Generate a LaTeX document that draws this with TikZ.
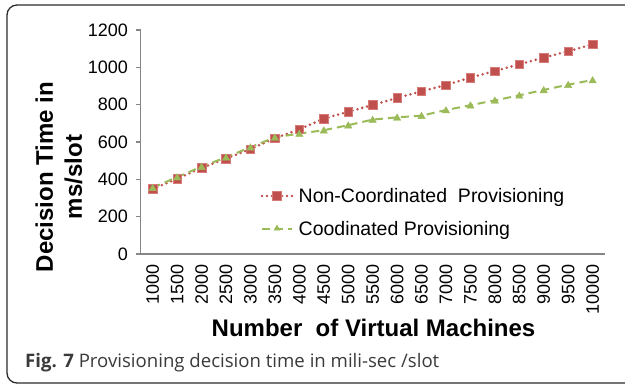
\documentclass[tikz,border=0pt]{standalone}
\usepackage{fontspec}
\setmainfont{Liberation Sans}
\newfontfamily\capfont{Open Sans}
\usetikzlibrary{shapes.geometric}

\definecolor{seriesred}{HTML}{C0504D}
\definecolor{seriesrededge}{HTML}{D77B78}
\definecolor{seriesgreen}{HTML}{9BBB59}
\definecolor{axisgray}{HTML}{868686}
\definecolor{framegray}{HTML}{2B2B2B}
\definecolor{captext}{HTML}{3A3A3A}

\tikzset{
  axisline/.style={draw=axisgray, line width=1.1pt},
  ticklab/.style={inner sep=0pt, font=\fontsize{18}{20}\selectfont},
  titlelab/.style={inner sep=0pt, font=\fontsize{24}{29}\selectfont\bfseries},
  leglab/.style={inner sep=0pt, anchor=base west, font=\fontsize{19.5}{22}\selectfont},
  redline/.style={draw=seriesred, line width=2.8pt, line cap=round, dash pattern=on 0pt off 5pt},
  greenline/.style={draw=seriesgreen, line width=2pt, dash pattern=on 8pt off 5pt},
  redmark/.style={rectangle, fill=seriesred, draw=seriesrededge, line width=0.6pt,
                  minimum size=8.5pt, inner sep=0pt},
  greenmark/.style={regular polygon, regular polygon sides=3, fill=seriesgreen,
                    draw=seriesgreen, minimum size=8.5pt, inner sep=0pt},
  framebox/.style={draw=framegray, line width=1.3pt, rounded corners=10pt}
}

\begin{document}
\begin{tikzpicture}[x=1pt, y=-1pt]
  \useasboundingbox (0,0) rectangle (625,385);
  \clip (0,0) rectangle (625,385);

  % outer panel
  \draw[framebox] (7,5) rectangle (660,383);

  % axes
  \draw[axisline] (140.5,30) coordinate (ytop) -- (140.5,254) coordinate (orig)
                  -- (605,254) coordinate (xend);

  % y ticks and labels
  \foreach \v [count=\k] in {0,200,400,600,800,1000,1200} {
    \coordinate (yt\k) at (140.5,{254-0.18667*\v});
    \draw[axisline] (yt\k) -- ++(-4.5,0);
    \node[ticklab, anchor=east] (yl\k) at (128,{254-0.18667*\v}) {\v};
  }

  % x tick labels
  \foreach \n [count=\i] in {1000,1500,2000,2500,3000,3500,4000,4500,5000,5500,
                              6000,6500,7000,7500,8000,8500,9000,9500,10000} {
    \node[ticklab, rotate=90, anchor=east] (xl\i) at ({152.7+24.44*(\i-1)},264.5) {\n};
  }

  % data points
  \foreach \v [count=\i] in {348,403,461,511,562,620,668,725,762,798,
                             836,872,905,945,980,1016,1052,1086,1123} {
    \coordinate (r\i) at ({152.7+24.44*(\i-1)},{254-0.18667*\v});
  }
  \foreach \v [count=\i] in {355,412,468,518,572,625,645,663,690,720,
                             732,741,771,797,823,850,879,907,932} {
    \coordinate (g\i) at ({152.7+24.44*(\i-1)},{254-0.18667*\v});
  }

  % series lines
  \draw[redline] (r1) \foreach \i in {2,...,19} { -- (r\i) };
  \draw[greenline] (g1) \foreach \i in {2,...,19} { -- (g\i) };

  % series markers
  \foreach \i in {1,...,19} {
    \node[redmark] (rm\i) at (r\i) {};
    \node[greenmark] (gm\i) at ([yshift=-0.8pt]g\i) {};
  }

  % legend
  \coordinate (la1) at (262,196);
  \coordinate (lb1) at (292,196);
  \draw[redline] (la1) -- (lb1);
  \node[redmark] (lm1) at (277,196) {};
  \node[leglab] (lt1) at (298.5,202.7) {Non-Coordinated\ \ Provisioning};

  \coordinate (la2) at (262,229);
  \coordinate (lb2) at (292,229);
  \draw[greenline] (la2) -- (lb2);
  \node[greenmark, minimum size=7pt] (lm2) at (277,228.5) {};
  \node[leglab] (lt2) at (298.5,235.2) {Coodinated Provisioning};

  % axis titles
  \node[titlelab, anchor=base] (xtitle) at (373.5,337) {Number\ \ of Virtual Machines};
  \node[titlelab, rotate=90, align=center] (ytitle) at (59,177) {Decision Time in\\ms/slot};

  % caption
  \node[inner sep=0pt, anchor=base west, text=captext,
        font=\capfont\fontsize{18.6}{21}\selectfont] (cap) at (25,367)
        {\textbf{Fig. 7} Provisioning decision time in mili-sec /slot};
\end{tikzpicture}
\end{document}
